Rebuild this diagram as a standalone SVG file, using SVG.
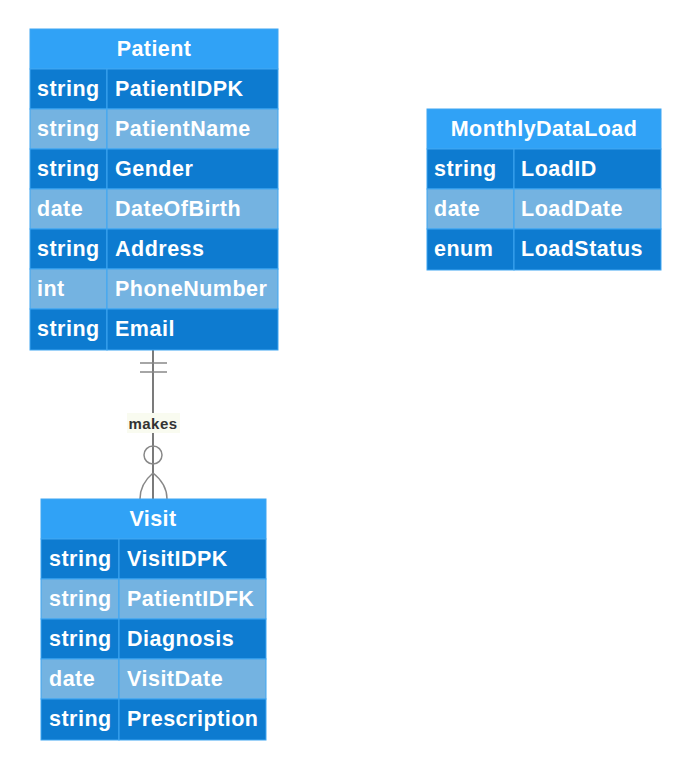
<svg xmlns="http://www.w3.org/2000/svg" width="691" height="770" viewBox="0 0 691 770">
<style>
.hd{fill:#30a2f6;stroke:#3ea6f2;stroke-width:1}
.dk{fill:#0d7bd0;stroke:#3ea6f2;stroke-width:1}
.lt{fill:#74b3e1;stroke:#3ea6f2;stroke-width:1}
text{font-family:"Liberation Sans",Arial,sans-serif;font-weight:bold;fill:#fff}
.t{font-size:21.5px;letter-spacing:0.5px}
.h{font-size:21.5px;letter-spacing:0.4px;text-anchor:middle}
.lbl{font-size:15px;fill:#333;text-anchor:middle;letter-spacing:0.5px}
.ln{stroke:#333;stroke-width:1.3;fill:none}
.mk{stroke:#888;stroke-width:1.5;fill:none}
</style>
<rect width="691" height="770" fill="#fff"/>
<g id="connectors">
<line class="ln" x1="153" y1="350" x2="153" y2="499"/>
<line class="mk" x1="140" y1="363" x2="167" y2="363"/>
<line class="mk" x1="140" y1="372" x2="167" y2="372"/>
<rect x="127" y="413" width="53" height="20" fill="#f9fbf0"/>
<text class="lbl" x="153" y="428.5">makes</text>
<circle class="mk" cx="153" cy="455" r="9" fill="#fff"/>
<path class="mk" d="M153 473 Q140 484 140 499 M153 473 Q167 484 167 499"/>
</g>
<g id="Patient">
<rect class="hd" x="30" y="29" width="248" height="40"/>
<text class="h" x="154" y="56">Patient</text>
<rect class="dk" x="30" y="69" width="77" height="40"/><rect class="dk" x="107" y="69" width="171" height="40"/>
<rect class="lt" x="30" y="109" width="77" height="40"/><rect class="lt" x="107" y="109" width="171" height="40"/>
<rect class="dk" x="30" y="149" width="77" height="40"/><rect class="dk" x="107" y="149" width="171" height="40"/>
<rect class="lt" x="30" y="189" width="77" height="40"/><rect class="lt" x="107" y="189" width="171" height="40"/>
<rect class="dk" x="30" y="229" width="77" height="40"/><rect class="dk" x="107" y="229" width="171" height="40"/>
<rect class="lt" x="30" y="269" width="77" height="40"/><rect class="lt" x="107" y="269" width="171" height="40"/>
<rect class="dk" x="30" y="309" width="77" height="41"/><rect class="dk" x="107" y="309" width="171" height="41"/>
<text class="t" x="37" y="96">string</text><text class="t" x="115" y="96">PatientIDPK</text>
<text class="t" x="37" y="136">string</text><text class="t" x="115" y="136">PatientName</text>
<text class="t" x="37" y="176">string</text><text class="t" x="115" y="176">Gender</text>
<text class="t" x="37" y="216">date</text><text class="t" x="115" y="216">DateOfBirth</text>
<text class="t" x="37" y="256">string</text><text class="t" x="115" y="256">Address</text>
<text class="t" x="37" y="296">int</text><text class="t" x="115" y="296">PhoneNumber</text>
<text class="t" x="37" y="336">string</text><text class="t" x="115" y="336">Email</text>
</g>
<g id="MonthlyDataLoad">
<rect class="hd" x="427" y="109" width="234" height="40"/>
<text class="h" x="544" y="136">MonthlyDataLoad</text>
<rect class="dk" x="427" y="149" width="87" height="40"/><rect class="dk" x="514" y="149" width="147" height="40"/>
<rect class="lt" x="427" y="189" width="87" height="40"/><rect class="lt" x="514" y="189" width="147" height="40"/>
<rect class="dk" x="427" y="229" width="87" height="41"/><rect class="dk" x="514" y="229" width="147" height="41"/>
<text class="t" x="434" y="176">string</text><text class="t" x="521" y="176">LoadID</text>
<text class="t" x="434" y="216">date</text><text class="t" x="521" y="216">LoadDate</text>
<text class="t" x="434" y="256">enum</text><text class="t" x="521" y="256">LoadStatus</text>
</g>
<g id="Visit">
<rect class="hd" x="41" y="499" width="225" height="40"/>
<text class="h" x="153" y="526">Visit</text>
<rect class="dk" x="41" y="539" width="78" height="40"/><rect class="dk" x="119" y="539" width="147" height="40"/>
<rect class="lt" x="41" y="579" width="78" height="40"/><rect class="lt" x="119" y="579" width="147" height="40"/>
<rect class="dk" x="41" y="619" width="78" height="40"/><rect class="dk" x="119" y="619" width="147" height="40"/>
<rect class="lt" x="41" y="659" width="78" height="40"/><rect class="lt" x="119" y="659" width="147" height="40"/>
<rect class="dk" x="41" y="699" width="78" height="41"/><rect class="dk" x="119" y="699" width="147" height="41"/>
<text class="t" x="49" y="566">string</text><text class="t" x="127" y="566">VisitIDPK</text>
<text class="t" x="49" y="606">string</text><text class="t" x="127" y="606">PatientIDFK</text>
<text class="t" x="49" y="646">string</text><text class="t" x="127" y="646">Diagnosis</text>
<text class="t" x="49" y="686">date</text><text class="t" x="127" y="686">VisitDate</text>
<text class="t" x="49" y="726">string</text><text class="t" x="127" y="726">Prescription</text>
</g>
</svg>
